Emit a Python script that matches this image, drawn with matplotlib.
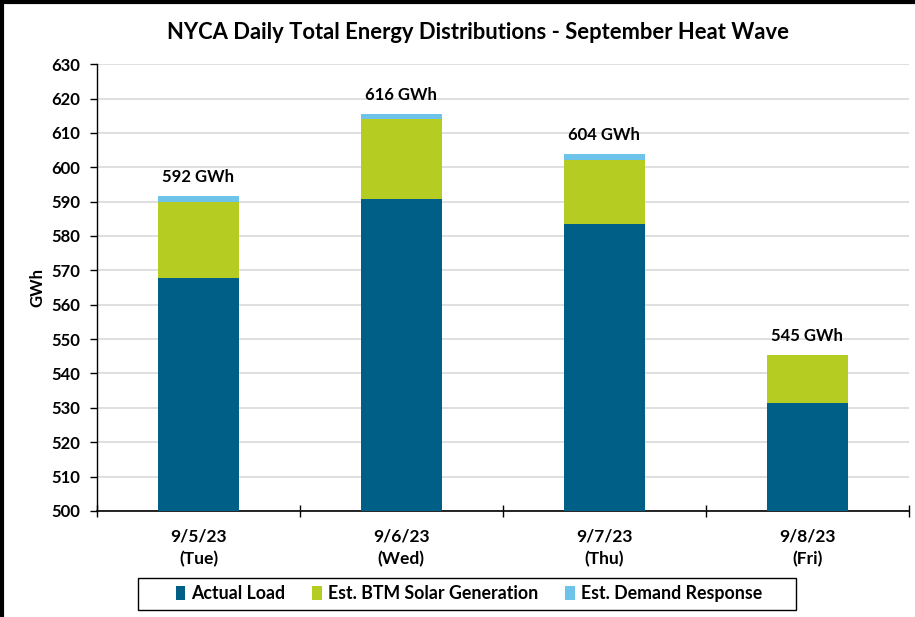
import matplotlib.pyplot as plt
from matplotlib.patches import Rectangle
import numpy as np

plt.rcParams['font.family'] = ['Lato', 'DejaVu Sans']
plt.rcParams['font.weight'] = 'bold'

categories = ['9/5/23\n(Tue)', '9/6/23\n(Wed)', '9/7/23\n(Thu)', '9/8/23\n(Fri)']
actual_load = [567.9, 590.9, 583.4, 531.3]
btm_solar = [22.1, 23.2, 18.7, 14.1]
demand_response = [1.7, 1.5, 1.7, 0.0]
total_labels = ['592 GWh', '616 GWh', '604 GWh', '545 GWh']

c_load = '#005F87'
c_solar = '#B5CC22'
c_dr = '#6DC3EA'

fig = plt.figure(figsize=(9.15, 6.17), dpi=100)
ax = fig.add_axes([0.106, 0.172, 0.887, 0.724])

x = np.arange(len(categories))
w = 0.4
base = np.full(len(categories), 500.0)
load = np.array(actual_load)
solar = np.array(btm_solar)
dr = np.array(demand_response)

ax.bar(x, load - base, bottom=base, width=w, color=c_load, label='Actual Load', zorder=3)
ax.bar(x, solar, bottom=load, width=w, color=c_solar, label='Est. BTM Solar Generation', zorder=3)
ax.bar(x, dr, bottom=load + solar, width=w, color=c_dr, label='Est. Demand Response', zorder=3)

tops = load + solar + dr
for xi, t, lab in zip(x, tops, total_labels):
    ax.text(xi, t + 3.2, lab, ha='center', va='bottom', fontsize=12, fontweight='bold')

ax.set_xlim(-0.5, len(categories) - 0.5)
ax.set_ylim(500, 630)
ax.set_yticks(np.arange(500, 631, 10))
ax.yaxis.grid(True, color='#D9D9D9', linewidth=1.2, zorder=0)
ax.set_axisbelow(True)

ax.set_xticks(x)
ax.set_xticklabels(categories, fontsize=12.5, fontweight='bold', linespacing=1.45)
ax.tick_params(axis='x', length=0, pad=13)
ax.set_xticks(np.arange(-0.5, len(categories), 1), minor=True)
ax.tick_params(axis='x', which='minor', length=8, direction='inout', width=1)
ax.tick_params(axis='y', labelsize=12, length=5, width=1, direction='out', pad=7)
for lab in ax.get_yticklabels():
    lab.set_fontweight('bold')

for s in ['top', 'right']:
    ax.spines[s].set_visible(False)
ax.spines['left'].set_linewidth(1)
ax.spines['bottom'].set_linewidth(1.2)

ax.set_ylabel('GWh', fontsize=12, fontweight='bold', labelpad=4)
fig.text(0.522, 0.948, 'NYCA Daily Total Energy Distributions - September Heat Wave',
         ha='center', va='center', fontsize=15.8, fontweight='bold')

leg = fig.legend(*ax.get_legend_handles_labels(), loc='center',
                 bbox_to_anchor=(0.5126, 0.038), ncol=3, frameon=False,
                 fontsize=12.8, handlelength=0.55, handleheight=0.8,
                 handletextpad=0.35, columnspacing=1.5, borderpad=0)

# legend box drawn separately (Excel style padding)
fig.add_artist(Rectangle((138 / 915, 1 - 609.5 / 617), 658 / 915, 32 / 617,
                         transform=fig.transFigure, fill=False,
                         edgecolor='black', linewidth=1))

# outer border on left and top like the cropped source
fig.add_artist(plt.Line2D([0.002, 0.002], [0, 1], color='black', linewidth=3, transform=fig.transFigure))
fig.add_artist(plt.Line2D([0, 1], [0.997, 0.997], color='black', linewidth=3, transform=fig.transFigure))

plt.savefig('out.png', dpi=100)
